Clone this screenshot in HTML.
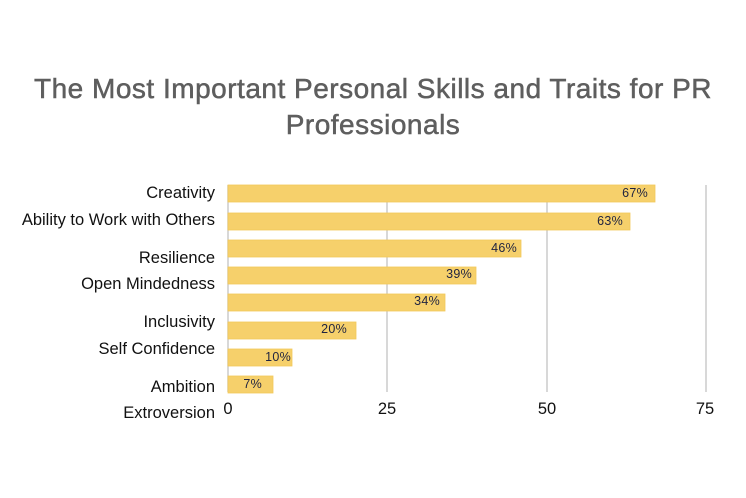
<!DOCTYPE html>
<html><head><style>
body{margin:0;background:#fff;}
svg{display:block;}
</style></head><body>
<svg width="746" height="498" xmlns="http://www.w3.org/2000/svg">
<rect width="746" height="498" fill="#fff"/>
<g font-family="Liberation Sans, sans-serif" fill="#5e5e5e" stroke="#5e5e5e" stroke-width="0.5" font-size="28" text-anchor="middle" letter-spacing="0.5">
<text x="373" y="98">The Most Important Personal Skills and Traits for PR</text>
<text x="373" y="134">Professionals</text>
</g>
<g stroke="#ccc" stroke-width="1.5">
<line x1="387" y1="185" x2="387" y2="392"/>
<line x1="547" y1="185" x2="547" y2="392"/>
<line x1="706" y1="185" x2="706" y2="392"/>
<line x1="228" y1="185" x2="228" y2="392"/>
</g>
<g fill="#f6d06b" stroke="#f3c95a" stroke-width="0.8">
<rect x="228" y="185" width="427" height="17"/>
<rect x="228" y="213" width="402" height="17"/>
<rect x="228" y="240" width="293" height="17"/>
<rect x="228" y="267" width="248" height="17"/>
<rect x="228" y="294" width="217" height="17"/>
<rect x="228" y="322" width="128" height="17"/>
<rect x="228" y="349" width="64" height="17"/>
<rect x="228" y="376" width="45" height="17"/>
</g>
<g font-family="Liberation Sans, sans-serif" fill="#1f2340" font-size="12.5" text-anchor="end" letter-spacing="0.3">
<text x="648" y="197">67%</text>
<text x="623" y="225">63%</text>
<text x="517" y="252">46%</text>
<text x="472" y="278">39%</text>
<text x="440" y="305">34%</text>
<text x="347" y="333">20%</text>
<text x="291" y="361">10%</text>
<text x="262" y="388">7%</text>
</g>
<g font-family="Liberation Sans, sans-serif" fill="#111" font-size="16.5" text-anchor="end">
<text x="215" y="198">Creativity</text>
<text x="215" y="225">Ability to Work with Others</text>
<text x="215" y="263">Resilience</text>
<text x="215" y="289">Open Mindedness</text>
<text x="215" y="327">Inclusivity</text>
<text x="215" y="354">Self Confidence</text>
<text x="215" y="392">Ambition</text>
<text x="215" y="418">Extroversion</text>
</g>
<g font-family="Liberation Sans, sans-serif" fill="#111" font-size="16.5" text-anchor="middle">
<text x="228" y="414">0</text>
<text x="387" y="414">25</text>
<text x="547" y="414">50</text>
<text x="705" y="414">75</text>
</g>
</svg>
</body></html>
